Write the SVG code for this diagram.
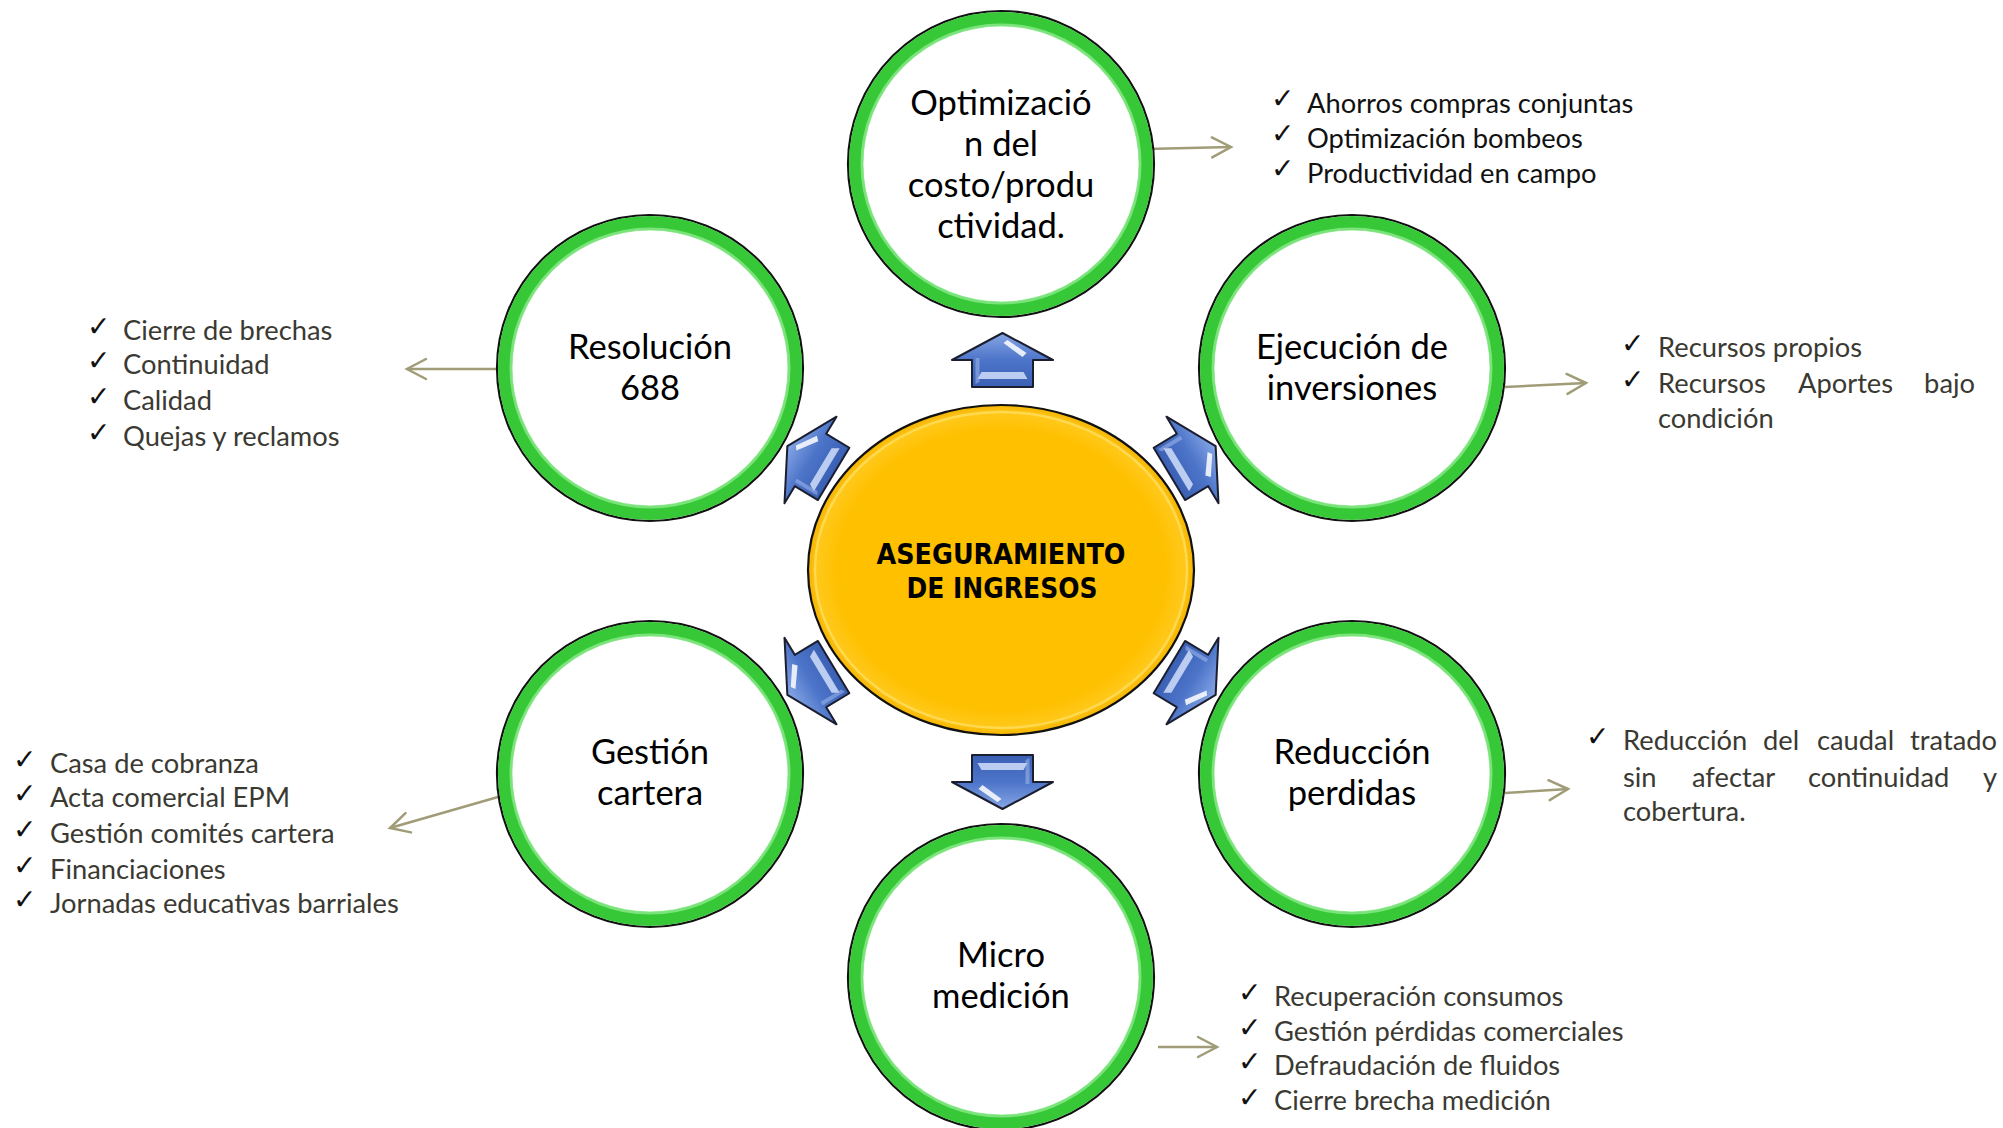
<svg xmlns="http://www.w3.org/2000/svg" width="2003" height="1128" viewBox="0 0 2003 1128">
  <style>
    .ring-bg { fill: #ffffff; stroke: #111111; stroke-width: 2.2; }
    .ring { fill: none; stroke: #37C837; stroke-width: 14; }
    .ring-hi { fill: none; stroke: #8BEA8B; stroke-width: 3; opacity: 0.8; }
    .ctext { font-family: Lato, "Liberation Sans", sans-serif; font-size: 34.5px; fill: #000000; text-anchor: middle; }
    .btext { font-family: Lato, "Liberation Sans", sans-serif; font-size: 27.3px; fill: #3a3932; }
    .btext-dark { font-family: Lato, "Liberation Sans", sans-serif; font-size: 27.3px; fill: #111111; }
    .chk { font-family: "DejaVu Sans", sans-serif; font-weight: bold; font-size: 28px; fill: #111111; }
    .conn { fill: none; stroke: #A09C78; stroke-width: 2.5; marker-end: url(#openArrow); }
    .center-text { font-family: "DejaVu Sans", sans-serif; font-weight: bold; font-size: 28px; fill: #000000; text-anchor: middle; }
  </style>
  <defs>
    <marker id="openArrow" viewBox="-2 -2 24 24" refX="19" refY="10" markerWidth="24" markerHeight="24" markerUnits="userSpaceOnUse" orient="auto" overflow="visible">
      <path d="M0,0 L19,10 L0,20" fill="none" stroke="#A09C78" stroke-width="2.5" stroke-linecap="round"/>
    </marker>
    <linearGradient id="blueGrad" x1="0" y1="0" x2="0" y2="1">
      <stop offset="0" stop-color="#86A6E6"/>
      <stop offset="0.5" stop-color="#4C74C8"/>
      <stop offset="1" stop-color="#3A60B4"/>
    </linearGradient>
    <radialGradient id="goldGrad" cx="0.5" cy="0.5" r="0.5">
      <stop offset="0.85" stop-color="#FFC000"/>
      <stop offset="0.95" stop-color="#FFC81A"/>
      <stop offset="1" stop-color="#F5B400"/>
    </radialGradient>
    <g id="blueArrow">
      <polygon points="0,-27 50.5,0 30.5,0 30.5,27 -30.5,27 -30.5,0 -50.5,0" fill="url(#blueGrad)" stroke="#1b1e2e" stroke-width="2" stroke-linejoin="round"/>
      <polygon points="1,-17 5,-20 24,-7 20,-3" fill="#ffffff" opacity="0.85"/>
      <polygon points="-25,19 25,19 21,12 -21,12" fill="#dbe6ff" opacity="0.8"/>
      <polygon points="-27,-2 -23,-2 -23,22 -27,24" fill="#a9c0f0" opacity="0.5"/>
    </g>
  </defs>

  <rect width="2003" height="1128" fill="#ffffff"/>

  <!-- center node -->
  <g id="node-center">
    <ellipse cx="1001" cy="570" rx="193" ry="165" fill="url(#goldGrad)" stroke="#111111" stroke-width="2.2"/>
    <ellipse cx="1001" cy="570" rx="186" ry="158" fill="none" stroke="#FFE36A" stroke-width="2.5" opacity="0.7"/>
    <text class="center-text" x="1001" y="564" textLength="249" lengthAdjust="spacingAndGlyphs">ASEGURAMIENTO</text>
    <text class="center-text" x="1002" y="598" textLength="191" lengthAdjust="spacingAndGlyphs">DE INGRESOS</text>
  </g>

  <!-- connectors -->
  <g id="connectors">
    <use href="#blueArrow" transform="translate(1002.5,360)"/>
    <use href="#blueArrow" transform="translate(1002.5,782) rotate(180)"/>
    <use href="#blueArrow" transform="translate(810.5,460) rotate(-59)"/>
    <use href="#blueArrow" transform="translate(1192.5,460) rotate(59)"/>
    <use href="#blueArrow" transform="translate(810.5,681) rotate(-121)"/>
    <use href="#blueArrow" transform="translate(1192.5,681) rotate(121)"/>
    <line class="conn" x1="1146" y1="149" x2="1231" y2="147"/>
    <line class="conn" x1="507" y1="369" x2="407" y2="369"/>
    <line class="conn" x1="1505" y1="387" x2="1586" y2="383"/>
    <line class="conn" x1="1505" y1="793" x2="1568" y2="789"/>
    <line class="conn" x1="505" y1="795" x2="390" y2="828"/>
    <line class="conn" x1="1158" y1="1047" x2="1217" y2="1047"/>
  </g>

  <!-- ring nodes -->
  <g id="node-optimizacion">
    <circle class="ring-bg" cx="1001" cy="164" r="153"/>
    <circle class="ring" cx="1001" cy="164" r="145"/>
    <circle class="ring-hi" cx="1001" cy="164" r="139"/>
    <text class="ctext" x="1001" y="115">Optimizació</text>
    <text class="ctext" x="1001" y="156">n del</text>
    <text class="ctext" x="1001" y="197">costo/produ</text>
    <text class="ctext" x="1001" y="238">ctividad.</text>
  </g>
  <g id="node-resolucion">
    <circle class="ring-bg" cx="650" cy="368" r="153"/>
    <circle class="ring" cx="650" cy="368" r="145"/>
    <circle class="ring-hi" cx="650" cy="368" r="139"/>
    <text class="ctext" x="650" y="359">Resolución</text>
    <text class="ctext" x="650" y="400">688</text>
  </g>
  <g id="node-ejecucion">
    <circle class="ring-bg" cx="1352" cy="368" r="153"/>
    <circle class="ring" cx="1352" cy="368" r="145"/>
    <circle class="ring-hi" cx="1352" cy="368" r="139"/>
    <text class="ctext" x="1352" y="359">Ejecución de</text>
    <text class="ctext" x="1352" y="400">inversiones</text>
  </g>
  <g id="node-gestion">
    <circle class="ring-bg" cx="650" cy="774" r="153"/>
    <circle class="ring" cx="650" cy="774" r="145"/>
    <circle class="ring-hi" cx="650" cy="774" r="139"/>
    <text class="ctext" x="650" y="764">Gestión</text>
    <text class="ctext" x="650" y="805">cartera</text>
  </g>
  <g id="node-reduccion">
    <circle class="ring-bg" cx="1352" cy="774" r="153"/>
    <circle class="ring" cx="1352" cy="774" r="145"/>
    <circle class="ring-hi" cx="1352" cy="774" r="139"/>
    <text class="ctext" x="1352" y="764">Reducción</text>
    <text class="ctext" x="1352" y="805">perdidas</text>
  </g>
  <g id="node-micro">
    <circle class="ring-bg" cx="1001" cy="977" r="153"/>
    <circle class="ring" cx="1001" cy="977" r="145"/>
    <circle class="ring-hi" cx="1001" cy="977" r="139"/>
    <text class="ctext" x="1001" y="967">Micro</text>
    <text class="ctext" x="1001" y="1008">medición</text>
  </g>

  <!-- bullet lists -->
  <g id="list-optimizacion">
    <text class="chk" x="1271" y="108">✓</text>
    <text class="chk" x="1271" y="143">✓</text>
    <text class="chk" x="1271" y="178">✓</text>
    <text class="btext-dark" x="1307" y="113">Ahorros compras conjuntas</text>
    <text class="btext-dark" x="1307" y="148">Optimización bombeos</text>
    <text class="btext-dark" x="1307" y="183">Productividad en campo</text>
  </g>
  <g id="list-resolucion">
    <text class="chk" x="87" y="336">✓</text>
    <text class="chk" x="87" y="370">✓</text>
    <text class="chk" x="87" y="406">✓</text>
    <text class="chk" x="87" y="442">✓</text>
    <text class="btext" x="123" y="340">Cierre de brechas</text>
    <text class="btext" x="123" y="374">Continuidad</text>
    <text class="btext" x="123" y="410">Calidad</text>
    <text class="btext" x="123" y="446">Quejas y reclamos</text>
  </g>
  <g id="list-ejecucion">
    <text class="chk" x="1621" y="353">✓</text>
    <text class="chk" x="1621" y="389">✓</text>
    <text class="btext" x="1658" y="357">Recursos propios</text>
    <text class="btext" x="1658" y="393">Recursos</text>
    <text class="btext" x="1798" y="393">Aportes</text>
    <text class="btext" x="1975" y="393" text-anchor="end">bajo</text>
    <text class="btext" x="1658" y="428">condición</text>
  </g>
  <g id="list-reduccion">
    <text class="chk" x="1586" y="746">✓</text>
    <text class="btext" x="1623" y="750">Reducción</text>
    <text class="btext" x="1763" y="750">del</text>
    <text class="btext" x="1817" y="750">caudal</text>
    <text class="btext" x="1997" y="750" text-anchor="end">tratado</text>
    <text class="btext" x="1623" y="787">sin</text>
    <text class="btext" x="1692" y="787">afectar</text>
    <text class="btext" x="1808" y="787">continuidad</text>
    <text class="btext" x="1997" y="787" text-anchor="end">y</text>
    <text class="btext" x="1623" y="821">cobertura.</text>
  </g>
  <g id="list-gestion">
    <text class="chk" x="13" y="769">✓</text>
    <text class="chk" x="13" y="803">✓</text>
    <text class="chk" x="13" y="839">✓</text>
    <text class="chk" x="13" y="875">✓</text>
    <text class="chk" x="13" y="909">✓</text>
    <text class="btext" x="50" y="773">Casa de cobranza</text>
    <text class="btext" x="50" y="807">Acta comercial EPM</text>
    <text class="btext" x="50" y="843">Gestión comités cartera</text>
    <text class="btext" x="50" y="879">Financiaciones</text>
    <text class="btext" x="50" y="913">Jornadas educativas barriales</text>
  </g>
  <g id="list-micro">
    <text class="chk" x="1238" y="1002">✓</text>
    <text class="chk" x="1238" y="1037">✓</text>
    <text class="chk" x="1238" y="1071">✓</text>
    <text class="chk" x="1238" y="1107">✓</text>
    <text class="btext" x="1274" y="1006">Recuperación consumos</text>
    <text class="btext" x="1274" y="1041">Gestión pérdidas comerciales</text>
    <text class="btext" x="1274" y="1075">Defraudación de fluidos</text>
    <text class="btext" x="1274" y="1110">Cierre brecha medición</text>
  </g>
</svg>
